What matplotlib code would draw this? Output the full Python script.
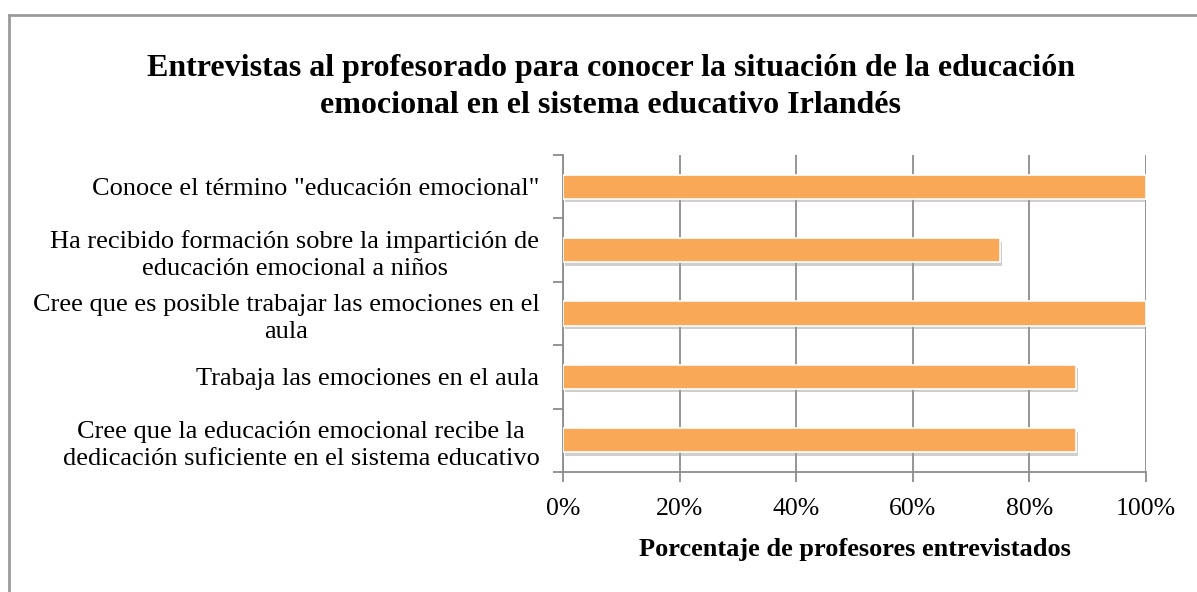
import matplotlib

matplotlib.use("Agg")
import matplotlib.pyplot as plt
import matplotlib.patheffects as pe
from matplotlib.lines import Line2D
from matplotlib.ticker import FixedLocator, FuncFormatter

plt.rcParams["font.family"] = ["Liberation Serif", "DejaVu Serif"]

categories = [
    'Conoce el término "educación emocional"',
    "Ha recibido formación sobre la impartición de\neducación emocional a niños",
    "Cree que es posible trabajar las emociones en el\naula",
    "Trabaja las emociones en el aula",
    "Cree que la educación emocional recibe la\ndedicación suficiente en el sistema educativo",
]
values = [1.00, 0.75, 1.00, 0.88, 0.88]
x_ticks = [0, 0.2, 0.4, 0.6, 0.8, 1.0]

title = ("Entrevistas al profesorado para conocer la situación de la educación\n"
         "emocional en el sistema educativo Irlandés")
x_label = "Porcentaje de profesores entrevistados"

BAR_COLOR = "#F8A857"
GRID_COLOR = "#8c8c8c"

fig = plt.figure(figsize=(11.97, 5.92), dpi=100)
ax = fig.add_axes([563 / 1197, 1 - 472 / 592, (1146 - 563) / 1197, (472 - 155) / 592])

pos = list(range(len(categories)))
bars = ax.barh(pos, values, height=0.38, color=BAR_COLOR,
               edgecolor="white", linewidth=1.2, zorder=3)
for b in bars:
    b.set_path_effects([
        pe.SimplePatchShadow(offset=(1.5, -2.5), shadow_rgbFace="#a0a0a0", alpha=0.5),
        pe.Normal(),
    ])

ax.set_xlim(0, 1)
ax.set_ylim(len(categories) - 0.5, -0.5)

ax.xaxis.set_major_locator(FixedLocator(x_ticks))
ax.xaxis.set_major_formatter(FuncFormatter(lambda v, _: f"{v * 100:.0f}%"))
ax.grid(axis="x", color=GRID_COLOR, linewidth=1.3, zorder=0)

ax.set_yticks(pos)
ax.set_yticklabels(categories, multialignment="center", linespacing=1.3)
ax.set_yticks([p - 0.5 for p in pos] + [len(pos) - 0.5], minor=True)
ax.tick_params(axis="y", which="major", length=0, pad=17, labelsize=19)
ax.tick_params(axis="y", which="minor", length=7, width=1.3, color=GRID_COLOR)
ax.tick_params(axis="x", length=7, width=1.3, color=GRID_COLOR, pad=12, labelsize=18.5)

for side in ("top", "right"):
    ax.spines[side].set_visible(False)
for side in ("left", "bottom"):
    ax.spines[side].set_color(GRID_COLOR)
    ax.spines[side].set_linewidth(1.3)

ax.set_xlabel(x_label, fontsize=19, fontweight="bold", labelpad=13)

fig.text(611 / 1197, 1 - 87 / 592, title, ha="center", va="center",
         fontsize=23, fontweight="bold", linespacing=1.35)

# outer chart frame (only top and left edges visible in the crop)
frame_x = 9 / 1197
frame_y = 1 - 15 / 592
fig.add_artist(Line2D([frame_x, 1], [frame_y, frame_y], transform=fig.transFigure,
                      color="#9a9a9a", linewidth=2))
fig.add_artist(Line2D([frame_x, frame_x], [0, frame_y], transform=fig.transFigure,
                      color="#9a9a9a", linewidth=2))

fig.savefig("out.png", dpi=100)
